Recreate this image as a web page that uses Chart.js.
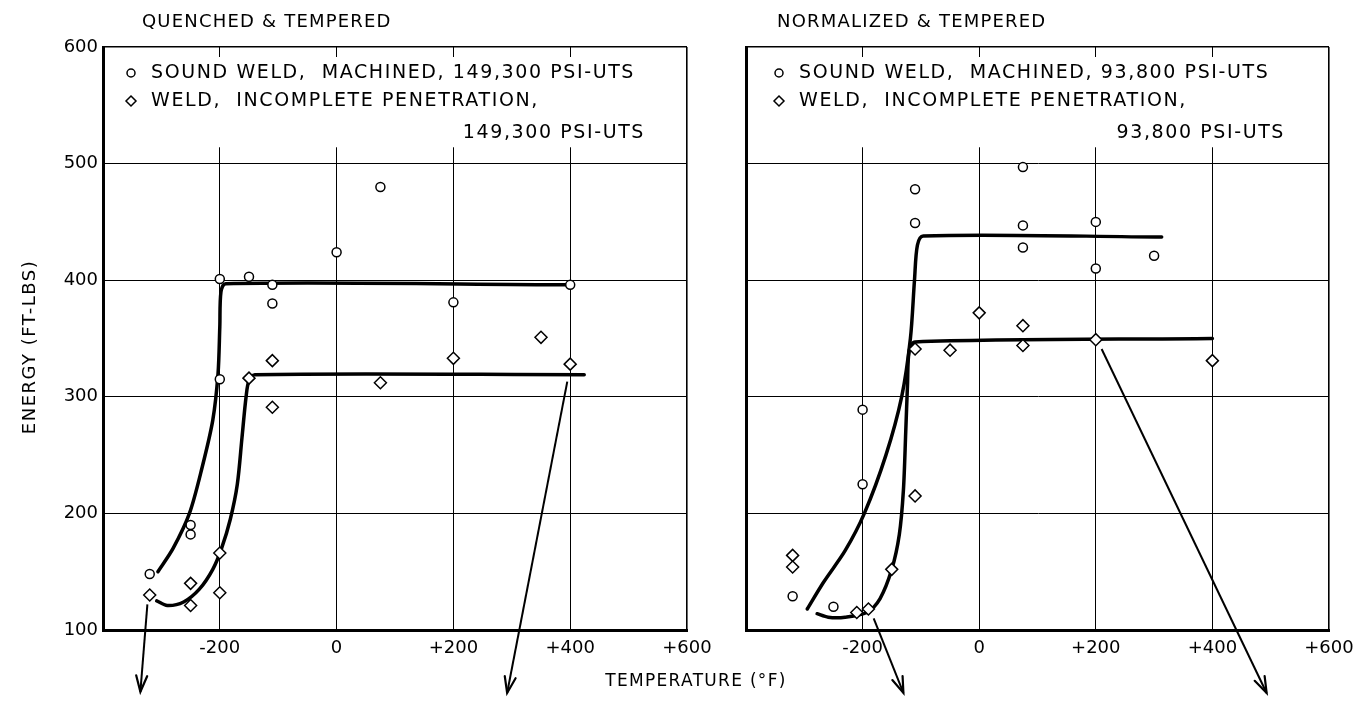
<!DOCTYPE html>
<html>
<head>
<meta charset="utf-8">
<script src="https://cdn.jsdelivr.net/npm/chart.js@4.4.1/dist/chart.umd.min.js"></script>
<style>
  html, body { margin:0; padding:0; background:#fff; width:1360px; height:701px; overflow:hidden; }
  body { position:relative; font-family:"DejaVu Sans", sans-serif; }
  #c1 { position:absolute; left:0; top:0; }
  #c2 { position:absolute; left:700px; top:0; }
  .xtitle { position:absolute; left:576px; top:669px; width:240px; text-align:center; font:17px "DejaVu Sans", sans-serif; color:#000; letter-spacing:1.3px; white-space:nowrap; line-height:22px; }
</style>
</head>
<body>
<canvas id="c1" width="720" height="701"></canvas>
<canvas id="c2" width="660" height="701"></canvas>
<div class="xtitle">TEMPERATURE (°F)</div>
<script>
// ---------- DATA ----------
const xTickValues = [-400, -200, 0, 200, 400, 600];
const xTickLabels = ['', '-200', '0', '+200', '+400', '+600'];
const yTickValues = [100, 200, 300, 400, 500, 600];
const yTickLabels = ['100', '200', '300', '400', '500', '600'];

// Quenched & tempered – sound weld (circles)
const qtSoundTemp   = [-320, -250, -250, -200, -200, -150, -110, -110, 0, 75, 200, 400];
const qtSoundEnergy = [148, 190, 182, 315, 401, 403, 396, 380, 424, 480, 381, 396];
// Quenched & tempered – incomplete penetration (diamonds)
const qtWeldTemp    = [-320, -250, -250, -200, -200, -150, -110, -110, 75, 200, 350, 400];
const qtWeldEnergy  = [130, 140, 121, 166, 132, 316, 331, 291, 312, 333, 351, 328];
// QT faired curves
const qtSoundCurveTemp   = [-306, -280, -252, -230, -212, -203, -200, -198, -190, 395];
const qtSoundCurveEnergy = [150, 170, 200, 240, 280, 320, 360, 390, 397, 396];
const qtWeldCurveTemp    = [-308, -290, -262, -235, -212, -197, -182, -170, -162, -155, -150, -140, 424];
const qtWeldCurveEnergy  = [125, 121, 124, 135, 152, 170, 195, 225, 265, 300, 314, 319, 319];
// QT arrows (start, tip)
const qtArrow1Temp = [-324, -336];  const qtArrow1Energy = [122, 47];
const qtArrow2Temp = [395, 292];    const qtArrow2Energy = [313, 46];

// Normalized & tempered – sound weld (circles)
const ntSoundTemp   = [-320, -250, -200, -200, -110, -110, 75, 75, 75, 200, 200, 300];
const ntSoundEnergy = [129, 120, 225, 289, 449, 478, 497, 447, 428, 450, 410, 421];
// Normalized & tempered – incomplete penetration (diamonds)
const ntWeldTemp    = [-320, -320, -210, -190, -150, -110, -110, -50, 0, 75, 75, 200, 400];
const ntWeldEnergy  = [164, 154, 115, 118, 152, 215, 341, 340, 372, 361, 344, 349, 331];
// NT faired curves
const ntSoundCurveTemp   = [-295, -267, -230, -197, -160, -133, -118, -111, -106, -96, 313];
const ntSoundCurveEnergy = [118, 141, 168, 200, 250, 300, 350, 400, 430, 438, 437];
const ntWeldCurveTemp    = [-278, -259, -230, -193, -170, -150, -137, -130, -126, -123, -120, -110, 400];
const ntWeldCurveEnergy  = [114, 111, 111, 115, 127, 152, 182, 220, 270, 310, 340, 347, 350];
// NT arrows (start, tip)
const ntArrow1Temp = [-181, -130];  const ntArrow1Energy = [110, 46];
const ntArrow2Temp = [210, 493];    const ntArrow2Energy = [341, 46];

// ---------- HELPERS ----------
const FONT = '"DejaVu Sans", sans-serif';
const pts = (xs, ys) => xs.map((x, i) => ({ x: x, y: ys[i] }));

function datasets(p) {
  return [
    { label: 'sound', data: pts(p.sT, p.sE), pointStyle: 'circle', pointRadius: 4.5,
      pointBorderWidth: 1.5, pointBackgroundColor: '#fff', pointBorderColor: '#000', showLine: false, order: 0 },
    { label: 'weld', data: pts(p.wT, p.wE), pointStyle: 'rectRot', pointRadius: 6,
      pointBorderWidth: 1.5, pointBackgroundColor: '#fff', pointBorderColor: '#000', showLine: false, order: 0 },
    { label: 'soundCurve', data: pts(p.scT, p.scE), showLine: true, pointRadius: 0, borderColor: '#000',
      borderWidth: 3.5, tension: 0.3, order: 1, borderCapStyle: 'round', borderJoinStyle: 'round' },
    { label: 'weldCurve', data: pts(p.wcT, p.wcE), showLine: true, pointRadius: 0, borderColor: '#000',
      borderWidth: 3.5, tension: 0.3, order: 1, borderCapStyle: 'round', borderJoinStyle: 'round' },
    { label: 'arrow1', data: pts(p.a1T, p.a1E), showLine: true, pointRadius: 0, borderColor: '#000',
      borderWidth: 2, tension: 0, order: 2, clip: false, isArrow: true },
    { label: 'arrow2', data: pts(p.a2T, p.a2E), showLine: true, pointRadius: 0, borderColor: '#000',
      borderWidth: 2, tension: 0, order: 2, clip: false, isArrow: true }
  ];
}

function drawDiamond(ctx, cx, cy, r) {
  ctx.beginPath();
  ctx.moveTo(cx, cy - r); ctx.lineTo(cx + r, cy); ctx.lineTo(cx, cy + r); ctx.lineTo(cx - r, cy); ctx.closePath();
  ctx.stroke();
}

function panelPlugin(cfg) {
  return {
    id: 'panel_' + cfg.id,
    beforeDatasetsDraw(chart) {
      const { ctx, chartArea: a, scales: { y } } = chart;
      ctx.save();
      // blank legend band (grid only shows short stubs at top)
      ctx.fillStyle = '#fff';
      const yb = y.getPixelForValue(514);
      ctx.fillRect(a.left + 3, a.top + 10, a.right - a.left - 5, yb - (a.top + 10));
      // legend
      ctx.fillStyle = '#000'; ctx.strokeStyle = '#000'; ctx.lineWidth = 1.5;
      ctx.font = '19px ' + FONT;
      ctx.textBaseline = 'middle';
      ctx.letterSpacing = '1.6px';
      const mx = a.left + cfg.markerDx;
      ctx.beginPath(); ctx.arc(mx, cfg.l1, 4, 0, Math.PI * 2); ctx.stroke();
      drawDiamond(ctx, mx, cfg.l2, 5);
      ctx.textAlign = 'left';
      ctx.fillText(cfg.line1, mx + 20, cfg.l1);
      ctx.fillText(cfg.line2, mx + 20, cfg.l2);
      ctx.textAlign = 'right';
      ctx.fillText(cfg.line3, a.right - cfg.line3Dr, cfg.l3);
      ctx.restore();
    },
    afterDatasetsDraw(chart) {
      const ctx = chart.ctx;
      chart.data.datasets.forEach((ds, i) => {
        if (!ds.isArrow) return;
        const els = chart.getDatasetMeta(i).data;
        const p0 = els[els.length - 2], p1 = els[els.length - 1];
        const ang = Math.atan2(p1.y - p0.y, p1.x - p0.x);
        const L = 17, s = 0.33;
        ctx.save();
        ctx.strokeStyle = '#000'; ctx.lineWidth = 2.2; ctx.lineCap = 'round';
        ctx.beginPath();
        ctx.moveTo(p1.x - L * Math.cos(ang - s), p1.y - L * Math.sin(ang - s));
        ctx.lineTo(p1.x, p1.y);
        ctx.lineTo(p1.x - L * Math.cos(ang + s), p1.y - L * Math.sin(ang + s));
        ctx.stroke();
        ctx.restore();
      });
    },
    afterDraw(chart) {
      const ctx = chart.ctx;
      ctx.save();
      ctx.fillStyle = '#000';
      ctx.font = '18px ' + FONT;
      ctx.letterSpacing = '1.2px';
      ctx.textBaseline = 'middle';
      ctx.textAlign = 'left';
      ctx.fillText(cfg.title, cfg.titleX, 22);
      if (cfg.yTitle) {
        ctx.font = '18px ' + FONT;
        ctx.letterSpacing = '1.5px';
        ctx.translate(30, 347);
        ctx.rotate(-Math.PI / 2);
        ctx.textAlign = 'center';
        ctx.fillText(cfg.yTitle, 0, 0);
      }
      ctx.restore();
    }
  };
}

function makeChart(canvasId, p, cfg) {
  return new Chart(document.getElementById(canvasId), {
    type: 'scatter',
    data: { datasets: datasets(p) },
    plugins: [panelPlugin(cfg)],
    options: {
      responsive: false, animation: false, devicePixelRatio: 1,
      layout: { autoPadding: false, padding: { left: 0, top: 47, right: cfg.padRight, bottom: 0 } },
      plugins: { legend: { display: false }, tooltip: { enabled: false }, title: { display: false } },
      scales: {
        x: {
          type: 'linear', min: -400, max: 600,
          afterBuildTicks: s => { s.ticks = xTickValues.map(v => ({ value: v })); },
          afterFit: s => { s.height = 71; s.paddingLeft = 0; s.paddingRight = 0; },
          grid: { color: '#000', lineWidth: c => (c.tick && c.tick.value === 600 ? 1.6 : 1), drawTicks: false },
          border: { display: true, color: '#000', width: 3 },
          ticks: { color: '#000', padding: 8, font: { family: FONT, size: 18 },
                   callback: (v) => xTickLabels[xTickValues.indexOf(v)] }
        },
        y: {
          type: 'linear', min: 100, max: 600,
          afterBuildTicks: s => { s.ticks = yTickValues.map(v => ({ value: v })); },
          afterFit: s => { s.width = cfg.yWidth; s.paddingTop = 0; s.paddingBottom = 0; },
          grid: { color: '#000', lineWidth: c => (c.tick && c.tick.value === 600 ? 1.6 : 1), drawTicks: false },
          border: { display: true, color: '#000', width: 3 },
          ticks: { display: cfg.showYLabels, color: '#000', padding: 5, font: { family: FONT, size: 18 },
                   callback: (v) => yTickLabels[yTickValues.indexOf(v)] }
        }
      }
    }
  });
}

makeChart('c1', {
  sT: qtSoundTemp, sE: qtSoundEnergy, wT: qtWeldTemp, wE: qtWeldEnergy,
  scT: qtSoundCurveTemp, scE: qtSoundCurveEnergy, wcT: qtWeldCurveTemp, wcE: qtWeldCurveEnergy,
  a1T: qtArrow1Temp, a1E: qtArrow1Energy, a2T: qtArrow2Temp, a2E: qtArrow2Energy
}, {
  id: 'qt', padRight: 33, yWidth: 103, showYLabels: true,
  title: 'QUENCHED & TEMPERED', titleX: 142, yTitle: 'ENERGY (FT-LBS)',
  markerDx: 28, l1: 73, l2: 101, l3: 133, line3Dr: 42,
  line1: 'SOUND WELD,  MACHINED, 149,300 PSI-UTS',
  line2: 'WELD,  INCOMPLETE PENETRATION,',
  line3: '149,300 PSI-UTS'
});

makeChart('c2', {
  sT: ntSoundTemp, sE: ntSoundEnergy, wT: ntWeldTemp, wE: ntWeldEnergy,
  scT: ntSoundCurveTemp, scE: ntSoundCurveEnergy, wcT: ntWeldCurveTemp, wcE: ntWeldCurveEnergy,
  a1T: ntArrow1Temp, a1E: ntArrow1Energy, a2T: ntArrow2Temp, a2E: ntArrow2Energy
}, {
  id: 'nt', padRight: 31, yWidth: 46, showYLabels: false,
  title: 'NORMALIZED & TEMPERED', titleX: 77, yTitle: null,
  markerDx: 33, l1: 73, l2: 101, l3: 133, line3Dr: 44,
  line1: 'SOUND WELD,  MACHINED, 93,800 PSI-UTS',
  line2: 'WELD,  INCOMPLETE PENETRATION,',
  line3: '93,800 PSI-UTS'
});
</script>
</body>
</html>
